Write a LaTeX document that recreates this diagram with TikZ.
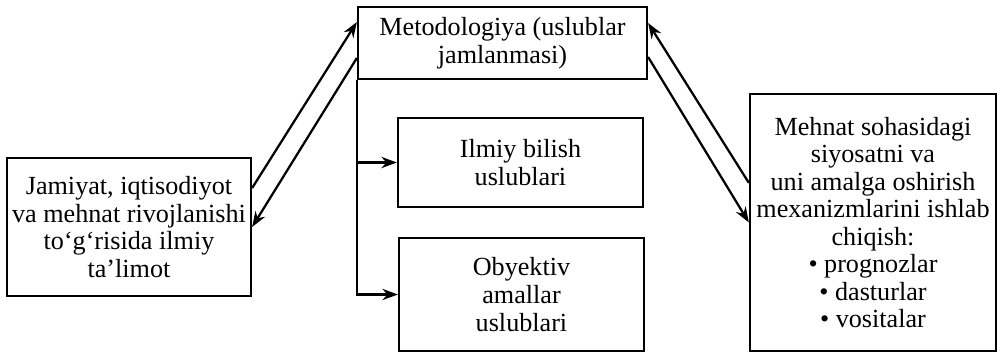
\documentclass[tikz,border=0pt]{standalone}
\usepackage{fontspec}
\setmainfont{Liberation Serif}
\usepackage{tikz}
\usetikzlibrary{arrows.meta}

\tikzset{
  blok/.style={draw, line width=1.6pt, align=center, inner sep=2pt,
    font=\fontsize{18.6}{19.6}\selectfont},
  strelka/.style={line width=1.6pt, -{Stealth[length=11pt,width=8pt]}}
}

\begin{document}
\begin{tikzpicture}
    \useasboundingbox (0,0) rectangle (24.925,-9.05);

    % Boxes
    \node[blok, minimum width=6.1cm, minimum height=3.45cm] (jamiyat) at (3.225,-5.675)
      {Jamiyat, iqtisodiyot\\va mehnat rivojlanishi\\to‘g‘risida ilmiy\\ta’limot};
    \node[blok, minimum width=7.225cm, minimum height=1.8cm] (metod) at (12.5625,-1.075)
      {Metodologiya (uslublar\\jamlanmasi)};
    \node[blok, minimum width=6.125cm, minimum height=2.225cm] (ilmiy) at (13.0125,-4.0625)
      {Ilmiy bilish\\uslublari};
    \node[blok, minimum width=6.125cm, minimum height=2.825cm] (obyektiv) at (13.0375,-7.3625)
      {Obyektiv\\amallar\\uslublari};
    \node[blok, minimum width=6.15cm, minimum height=6.425cm] (mehnat) at (21.825,-5.5625)
      {Mehnat sohasidagi\\siyosatni va\\uni amalga oshirish\\mexanizmlarini ishlab\\chiqish:\\\textbullet{} prognozlar\\\textbullet{} dasturlar\\\textbullet{} vositalar};

    % Left arrows
    \draw[strelka] ([yshift=0.975cm]jamiyat.east) -- ([yshift=0.525cm]metod.west);
    \draw[strelka] ([yshift=-0.375cm]metod.west) -- (jamiyat.east);

    % Right arrows
    \draw[strelka] ([yshift=0.99cm]mehnat.west) -- ([yshift=0.5cm]metod.east);
    \draw[strelka] ([yshift=-0.35cm]metod.east) -- (mehnat.west);

    % Branch
    \draw[strelka] (metod.south west) |- (obyektiv.west);
    \draw[strelka] (metod.south west |- ilmiy.west) -- (ilmiy.west);
  \end{tikzpicture}
\end{document}
